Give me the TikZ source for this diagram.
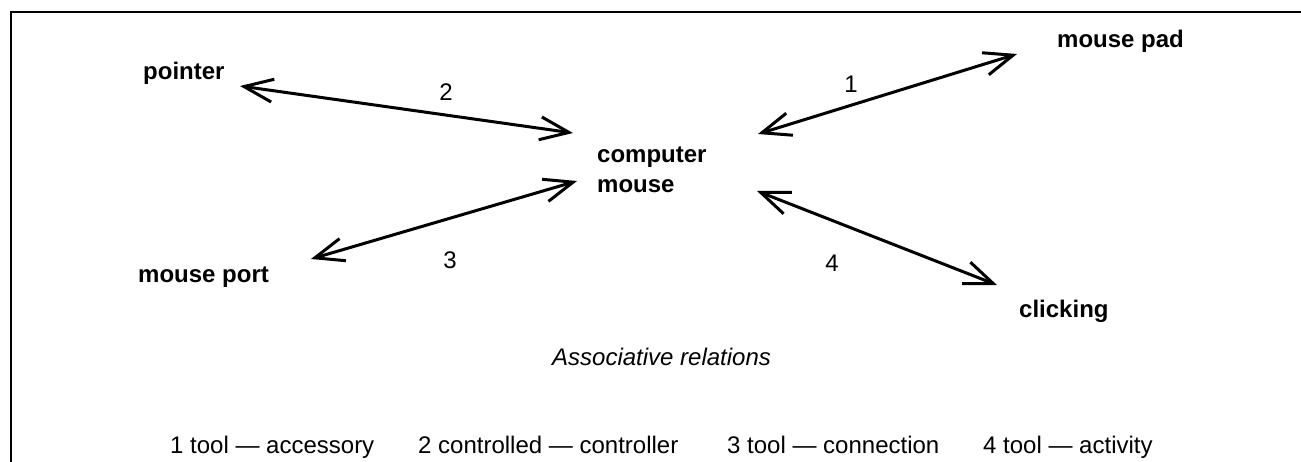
\documentclass[tikz,border=0pt]{standalone}
\usepackage{fontspec}
\setmainfont{Liberation Sans}
\usetikzlibrary{arrows.meta}
\begin{document}
\begin{tikzpicture}[x=1pt,y=-1pt,
  lbl/.style={font=\fontsize{24}{28}\selectfont\bfseries, inner sep=0pt, anchor=base west},
  num/.style={font=\fontsize{24}{28}\selectfont, inner sep=0pt},
  legend/.style={font=\fontsize{24}{28}\selectfont, inner sep=0pt, anchor=base west},
  caption/.style={font=\fontsize{24}{28}\selectfont\itshape, inner sep=0pt, anchor=base west},
  rel/.style={line width=3pt, {Straight Barb[length=29pt,width=23pt]}-{Straight Barb[length=29pt,width=23pt]}},
  frameline/.style={line width=2pt}]
\useasboundingbox (0,0) rectangle (1301,462);
\draw[frameline] (1301,12) -- (11,12) -- (11,462);

% nodes
\node[lbl] (pointer) at (143,80) {pointer};
\node[lbl] (pad) at (1057,48) {mouse pad};
\node[lbl] (cmA) at (597,163) {computer};
\node[lbl] (cmB) at (597,193) {mouse};
\node[lbl] (port) at (138,283) {mouse port};
\node[lbl] (click) at (1019,317) {clicking};

% connector ends
\coordinate (p2a) at (240,86);
\coordinate (p2b) at (573,133);
\coordinate (p3a) at (311,259);
\coordinate (p3b) at (577,181);
\coordinate (p1a) at (758,134);
\coordinate (p1b) at (1017,54);
\coordinate (p4a) at (757,191);
\coordinate (p4b) at (997,285);

\draw[rel] (p2a) -- (p2b);
\draw[rel] (p3a) -- (p3b);
\draw[rel] (p1a) -- (p1b);
\draw[rel] (p4a) -- (p4b);

% relation numbers
\node[num] (n1) at (851,84) {1};
\node[num] (n2) at (446,92) {2};
\node[num] (n3) at (450,260) {3};
\node[num] (n4) at (832,263) {4};

% caption and legend
\node[caption] (cap) at (552,365) {Associative relations};
\node[legend] (l1) at (170,453) {1 tool — accessory};
\node[legend] (l2) at (418,453) {2 controlled — controller};
\node[legend] (l3) at (727,453) {3 tool — connection};
\node[legend] (l4) at (983,453) {4 tool — activity};
\end{tikzpicture}
\end{document}
